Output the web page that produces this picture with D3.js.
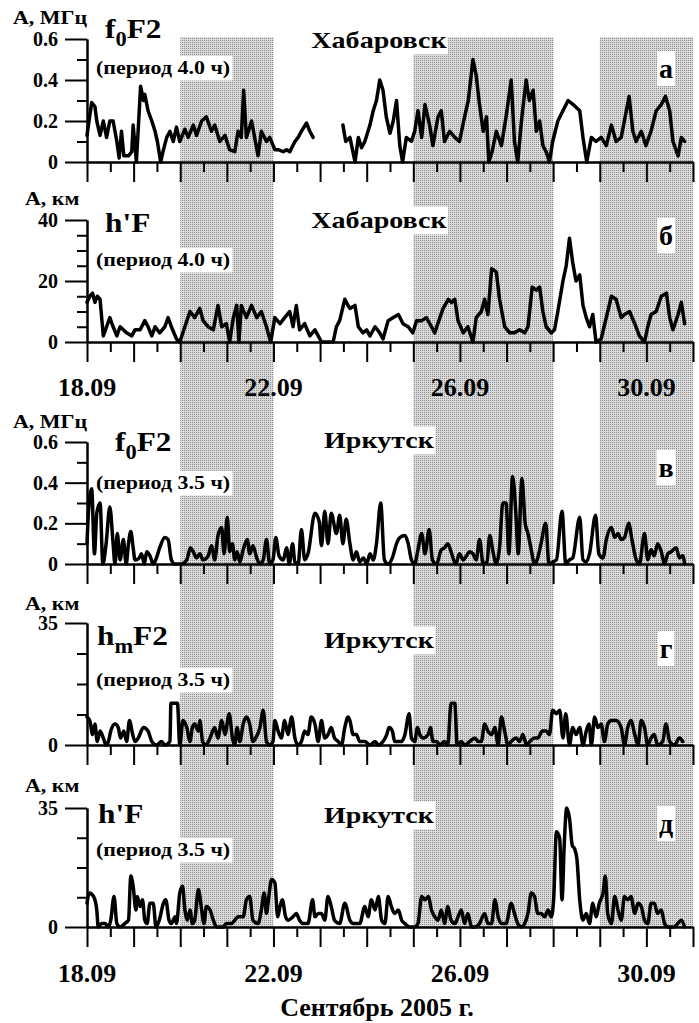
<!DOCTYPE html>
<html>
<head>
<meta charset="utf-8">
<script src="https://cdn.jsdelivr.net/npm/d3@7"></script>
<style>
  body { margin: 0; background: #fff; }
  svg { display: block; }
  text { font-family: "Liberation Serif", "Times New Roman", serif; font-weight: bold; fill: #000; }
</style>
</head>
<body>
<svg id="chart" width="699" height="1023"></svg>
<script>

// ---- data: [day of September 2005, amplitude] ----
const dayRange = [18, 31];
const dayTicks = [18,19,20,21,22,23,24,25,26,27,28,29,30,31];
const halfDayTicks = [18.5,19.5,20.5,21.5,22.5,23.5,24.5,25.5,26.5,27.5,28.5,29.5,30.5];
const dateTicks = [18, 22, 26, 30];
const dateLabels = ["18.09", "22.09", "26.09", "30.09"];
const stormDays = [[20, 22], [25, 28], [29, 31]];

// Khabarovsk foF2, period 4.0 h (MHz); null = data gap
const khabFoF2 = [[18.00,.13],[18.10,.29],[18.17,.27],[18.21,.2],[18.28,.13],[18.35,.2],[18.42,.12],[18.49,.2],[18.56,.2],[18.64,.1],[18.69,.02],[18.74,.15],[18.79,.03],[18.89,.03],[18.96,.05],[18.99,.18],[19.06,0],[19.15,.37],[19.21,.3],[19.24,.33],[19.31,.25],[19.39,.2],[19.46,.15],[19.51,.1],[19.58,0],[19.64,.06],[19.71,.12],[19.78,.15],[19.85,.1],[19.92,.17],[19.99,.1],[20.10,.16],[20.17,.12],[20.28,.18],[20.35,.13],[20.46,.2],[20.56,.22],[20.67,.15],[20.74,.18],[20.85,.1],[20.96,.13],[21.06,.06],[21.17,.05],[21.24,.15],[21.31,.12],[21.36,.35],[21.42,.12],[21.53,.2],[21.67,.03],[21.74,.15],[21.85,.1],[21.92,.12],[22.03,.06],[22.10,.06],[22.21,.05],[22.28,.06],[22.35,.05],[22.46,.1],[22.53,.12],[22.60,.15],[22.71,.19],[22.78,.15],[22.85,.12],[23.2,null],[23.49,.18],[23.55,.1],[23.64,.12],[23.75,0],[23.82,.12],[23.89,.07],[23.96,.1],[24.07,.18],[24.14,.25],[24.21,.3],[24.28,.4],[24.35,.35],[24.42,.22],[24.50,.14],[24.57,.2],[24.64,.3],[24.71,.08],[24.77,0],[24.85,.12],[24.96,.1],[25.03,.15],[25.10,.25],[25.18,.12],[25.25,.28],[25.35,.18],[25.42,.08],[25.53,.22],[25.60,.25],[25.67,.1],[25.78,.15],[25.89,.12],[25.99,.1],[26.10,.22],[26.18,.3],[26.28,.5],[26.35,.42],[26.42,.28],[26.50,.15],[26.57,.22],[26.62,0],[26.69,.05],[26.78,.15],[26.89,.08],[26.99,.22],[27.10,.4],[27.17,.1],[27.24,0],[27.32,.2],[27.42,.4],[27.49,.3],[27.57,.35],[27.64,.15],[27.71,.2],[27.78,.08],[27.85,.05],[27.92,0],[27.99,.1],[28.10,.2],[28.21,.25],[28.32,.3],[28.43,.28],[28.57,.25],[28.64,.12],[28.72,0],[28.82,.12],[28.92,.1],[29.03,.12],[29.14,.08],[29.25,.18],[29.35,.1],[29.46,.12],[29.57,.25],[29.63,.32],[29.71,.15],[29.78,.1],[29.89,.15],[29.99,.08],[30.10,.15],[30.21,.25],[30.32,.28],[30.41,.32],[30.50,.25],[30.57,.1],[30.68,.03],[30.75,.12],[30.82,.1]];

// Khabarovsk h'F, period 4.0 h (km)
const khabHF = [[18.00,13],[18.06,15],[18.12,16],[18.17,13],[18.22,15],[18.28,14],[18.35,2],[18.42,5],[18.49,8],[18.56,5],[18.64,2],[18.71,5],[18.78,4],[18.85,3],[18.96,2],[19.03,4],[19.14,4],[19.24,7],[19.31,5],[19.39,2],[19.46,5],[19.56,3],[19.67,5],[19.74,8],[19.81,5],[19.92,1],[19.99,0],[20.10,5],[20.21,10],[20.31,8],[20.42,11],[20.49,7],[20.60,5],[20.71,4],[20.81,12],[20.89,5],[20.99,6],[21.06,0],[21.14,8],[21.21,12],[21.26,0],[21.31,12],[21.42,8],[21.53,12],[21.64,8],[21.74,10],[21.85,5],[21.94,0],[22.03,8],[22.14,6],[22.24,8],[22.35,10],[22.42,5],[22.49,12],[22.56,4],[22.67,6],[22.78,2],[22.89,4],[22.96,2],[23.03,0],[23.28,0],[23.35,5],[23.42,7],[23.53,14],[23.60,12],[23.64,11],[23.75,12],[23.82,5],[23.92,3],[24.00,4],[24.07,2],[24.18,5],[24.28,3],[24.35,1],[24.46,7],[24.57,8],[24.68,9],[24.78,6],[24.89,5],[24.99,3],[25.07,7],[25.18,7],[25.28,8],[25.39,5],[25.46,3],[25.57,8],[25.64,11],[25.75,14],[25.82,13],[25.89,14],[25.96,7],[26.07,3],[26.17,5],[26.28,0],[26.35,8],[26.46,10],[26.53,14],[26.60,9],[26.68,24],[26.78,23],[26.85,14],[26.96,5],[27.07,3],[27.17,3],[27.28,4],[27.39,3],[27.46,5],[27.55,18],[27.64,17],[27.71,18],[27.78,10],[27.85,5],[27.96,3],[28.03,4],[28.10,10],[28.21,20],[28.28,25],[28.35,34],[28.42,26],[28.49,20],[28.57,22],[28.64,12],[28.71,8],[28.78,5],[28.85,9],[28.92,0],[29.03,1],[29.14,8],[29.25,15],[29.35,14],[29.46,8],[29.53,9],[29.64,10],[29.75,6],[29.85,2],[29.96,0],[30.03,5],[30.10,9],[30.21,10],[30.32,15],[30.43,16],[30.50,8],[30.57,4],[30.68,9],[30.75,13],[30.82,6]];

// Irkutsk foF2, period 3.5 h (MHz)
const irkFoF2 = [[18.00,.1],[18.03,.25],[18.10,.37],[18.16,.05],[18.21,.25],[18.28,.3],[18.34,0],[18.41,.1],[18.49,.28],[18.56,.1],[18.60,0],[18.65,.15],[18.71,.02],[18.78,.12],[18.84,0],[18.89,.1],[18.94,.16],[18.99,.08],[19.03,.02],[19.12,.03],[19.17,.05],[19.23,0],[19.28,.06],[19.35,.04],[19.42,0],[19.49,.03],[19.56,.08],[19.67,.13],[19.74,.12],[19.81,.02],[19.89,0],[20.03,0],[20.14,.02],[20.22,.08],[20.28,.06],[20.35,.03],[20.42,.05],[20.49,.02],[20.60,.04],[20.67,.09],[20.74,.02],[20.81,.14],[20.89,.18],[20.94,.05],[21.01,.23],[21.06,.06],[21.12,.1],[21.17,.02],[21.22,.06],[21.28,.01],[21.35,.07],[21.44,.12],[21.49,.05],[21.56,.09],[21.64,.03],[21.71,0],[21.78,.02],[21.85,.12],[21.92,0],[21.99,.02],[22.05,.13],[22.12,.04],[22.21,.02],[22.28,.08],[22.34,0],[22.41,.1],[22.46,.01],[22.53,0],[22.60,.17],[22.67,.02],[22.74,.05],[22.89,.25],[22.98,.21],[23.03,.09],[23.10,.26],[23.17,.1],[23.24,.25],[23.35,.15],[23.42,.24],[23.49,.1],[23.56,.22],[23.64,.1],[23.71,.02],[23.78,.06],[23.85,.01],[23.93,.03],[24.00,0],[24.07,.05],[24.14,.02],[24.21,.1],[24.30,.3],[24.38,.02],[24.46,0],[24.55,.03],[24.64,.1],[24.71,.13],[24.82,.14],[24.89,.1],[24.96,.02],[25.03,0],[25.10,.07],[25.18,.15],[25.25,.05],[25.34,.17],[25.41,.02],[25.50,0],[25.60,.07],[25.67,.08],[25.74,.1],[25.81,.06],[25.91,0],[25.99,.05],[26.07,.02],[26.14,.04],[26.21,.06],[26.28,.05],[26.35,.02],[26.42,.12],[26.50,0],[26.58,.01],[26.64,.14],[26.71,.06],[26.78,0],[26.85,.08],[26.92,.3],[26.99,.3],[27.05,.05],[27.13,.43],[27.20,.25],[27.25,.05],[27.33,.42],[27.40,.2],[27.46,.15],[27.53,.07],[27.60,0],[27.67,.03],[27.74,.1],[27.84,.2],[27.91,0],[27.99,.01],[28.07,.02],[28.19,.26],[28.27,0],[28.35,.02],[28.42,.03],[28.57,.23],[28.64,.02],[28.71,.01],[28.78,.05],[28.91,.24],[28.98,.05],[29.07,.03],[29.14,.12],[29.25,.18],[29.32,.13],[29.39,.15],[29.46,.12],[29.53,.13],[29.62,.2],[29.69,.12],[29.77,.03],[29.85,0],[29.96,.15],[30.03,.02],[30.10,.07],[30.17,.04],[30.24,.1],[30.32,.06],[30.39,0],[30.46,.05],[30.53,.06],[30.64,.08],[30.71,.03],[30.78,.04],[30.82,0]];

// Irkutsk hmF2, period 3.5 h (km)
const irkHmF2 = [[18.00,8],[18.06,7],[18.12,3],[18.17,6],[18.22,1],[18.28,4],[18.35,2],[18.41,0],[18.46,1],[18.51,4],[18.60,6],[18.67,5],[18.72,2],[18.79,4],[18.85,1],[18.91,7],[18.98,3],[19.03,1],[19.10,2],[19.21,5],[19.31,4],[19.39,1],[19.49,0],[19.60,1],[19.67,0],[19.78,1],[19.80,12],[19.94,12],[19.99,0],[20.06,7],[20.14,5],[20.21,1],[20.26,5],[20.31,6],[20.39,4],[20.42,7],[20.48,1],[20.55,0],[20.64,2],[20.74,5],[20.81,2],[20.89,7],[20.96,3],[21.05,9],[21.12,2],[21.17,0],[21.22,5],[21.28,1],[21.35,6],[21.42,8],[21.49,6],[21.56,1],[21.62,2],[21.71,5],[21.78,10],[21.85,1],[21.92,0],[21.99,1],[22.03,7],[22.10,4],[22.17,2],[22.24,7],[22.31,3],[22.39,8],[22.46,2],[22.53,0],[22.60,1],[22.67,4],[22.74,3],[22.81,8],[22.89,6],[22.96,1],[23.03,7],[23.10,2],[23.17,3],[23.24,5],[23.31,2],[23.39,1],[23.46,0],[23.53,5],[23.60,8],[23.64,7],[23.71,3],[23.78,3],[23.85,1],[23.96,1],[24.07,0],[24.18,1],[24.25,0],[24.35,1],[24.43,3],[24.48,5],[24.55,4],[24.60,1],[24.68,1],[24.75,1],[24.82,3],[24.91,9],[24.96,2],[25.03,1],[25.09,5],[25.14,3],[25.21,2],[25.32,3],[25.37,5],[25.42,1],[25.50,1],[25.57,0],[25.67,1],[25.74,0],[25.81,12],[25.89,12],[25.94,0],[26.03,1],[26.10,0],[26.21,1],[26.32,2],[26.39,1],[26.46,1],[26.53,6],[26.60,4],[26.68,3],[26.75,5],[26.82,0],[26.89,8],[26.96,4],[27.03,0],[27.10,1],[27.21,2],[27.28,1],[27.35,3],[27.43,0],[27.50,1],[27.60,2],[27.67,2],[27.77,4],[27.85,4],[27.92,3],[27.99,10],[28.07,9],[28.14,10],[28.21,2],[28.27,9],[28.35,0],[28.42,5],[28.49,3],[28.57,5],[28.64,0],[28.71,4],[28.77,6],[28.82,0],[28.89,8],[28.96,5],[29.03,6],[29.10,1],[29.17,6],[29.25,7],[29.35,7],[29.46,5],[29.53,0],[29.60,5],[29.67,7],[29.75,3],[29.82,0],[29.89,7],[29.96,5],[30.03,0],[30.10,2],[30.17,3],[30.24,0],[30.35,1],[30.42,6],[30.50,1],[30.60,0],[30.71,2],[30.78,1]];

// Irkutsk h'F, period 3.5 h (km)
const irkHF = [[18.00,7],[18.05,10],[18.14,9],[18.21,5],[18.24,0],[18.31,1],[18.39,1],[18.46,0],[18.51,2],[18.58,9],[18.64,1],[18.71,0],[18.81,1],[18.89,2],[18.94,15],[18.99,12],[19.05,5],[19.08,9],[19.14,6],[19.19,8],[19.24,2],[19.29,1],[19.35,7],[19.42,7],[19.48,0],[19.55,2],[19.64,7],[19.69,8],[19.76,2],[19.81,1],[19.89,3],[19.92,1],[19.99,10],[20.05,12],[20.10,5],[20.15,2],[20.21,5],[20.26,1],[20.31,2],[20.39,11],[20.46,5],[20.51,1],[20.56,6],[20.64,5],[20.71,2],[20.78,0],[20.92,0],[20.99,1],[21.10,1],[21.17,2],[21.24,3],[21.35,3],[21.42,8],[21.49,9],[21.56,2],[21.67,1],[21.74,5],[21.80,10],[21.85,4],[21.90,9],[21.96,14],[22.03,13],[22.09,3],[22.14,6],[22.19,8],[22.26,3],[22.31,2],[22.42,3],[22.49,4],[22.56,2],[22.64,1],[22.74,1],[22.84,8],[22.89,3],[22.96,4],[23.03,4],[23.10,2],[23.17,9],[23.24,6],[23.31,2],[23.42,1],[23.53,7],[23.64,2],[23.71,1],[23.78,1],[23.85,1],[23.96,6],[24.03,3],[24.10,8],[24.18,5],[24.25,9],[24.32,2],[24.39,1],[24.46,9],[24.53,6],[24.60,4],[24.68,5],[24.75,2],[24.82,1],[24.92,0],[25.03,0],[25.10,1],[25.18,9],[25.25,8],[25.32,9],[25.39,5],[25.46,3],[25.53,2],[25.60,5],[25.67,1],[25.74,6],[25.81,2],[25.89,1],[25.96,3],[26.03,5],[26.10,1],[26.17,4],[26.25,0],[26.32,0],[26.42,1],[26.53,4],[26.60,1],[26.68,1],[26.75,8],[26.82,3],[26.89,1],[26.99,1],[27.10,7],[27.17,4],[27.24,1],[27.32,0],[27.39,1],[27.46,4],[27.53,10],[27.60,9],[27.67,4],[27.74,4],[27.82,3],[27.89,5],[27.96,3],[28.01,8],[28.07,28],[28.14,26],[28.19,8],[28.24,25],[28.29,35],[28.35,32],[28.41,24],[28.46,23],[28.51,20],[28.57,8],[28.64,2],[28.71,4],[28.78,1],[28.85,7],[28.92,3],[28.99,7],[29.07,10],[29.12,15],[29.17,4],[29.25,1],[29.32,9],[29.39,5],[29.46,2],[29.53,9],[29.60,8],[29.67,9],[29.75,4],[29.82,7],[29.89,6],[29.96,2],[30.03,1],[30.10,7],[30.17,7],[30.24,4],[30.32,5],[30.39,1],[30.46,0],[30.60,0],[30.67,1],[30.75,2],[30.82,0]];

const panels = [
  { data: khabFoF2, jagged: true, max: 0.6, major: [0, 0.2, 0.4, 0.6], minor: [0.1, 0.3, 0.5], fmt: d => d === 0 ? "0" : d.toFixed(1),
    top: 39, zero: 162, unit: "А, МГц", unitY: 24, param: ["f", "0", "F2"], paramX: 105, paramY: 38,
    period: "(период 4.0 ч)", periodY: 74, station: "Хабаровск", stationY: 48, letter: "а", letterY: 78 },
  { data: khabHF, jagged: true, max: 40, major: [0, 20, 40], minor: [5, 10, 15, 25, 30, 35], fmt: d => d,
    top: 220, zero: 342, unit: "А, км", unitY: 205, param: ["h'F"], paramX: 105, paramY: 232,
    period: "(период 4.0 ч)", periodY: 266, station: "Хабаровск", stationY: 228, letter: "б", letterY: 245, dates: 396 },
  { data: irkFoF2, max: 0.6, major: [0, 0.2, 0.4, 0.6], minor: [0.1, 0.3, 0.5], fmt: d => d === 0 ? "0" : d.toFixed(1),
    top: 442, zero: 564, unit: "А, МГц", unitY: 428, param: ["f", "0", "F2"], paramX: 115, paramY: 451,
    period: "(период 3.5 ч)", periodY: 489, station: "Иркутск", stationY: 448, letter: "в", letterY: 477 },
  { data: irkHmF2, max: 35, major: [0, 35], minor: [8.75, 17.5, 26.25], fmt: d => d,
    top: 623, zero: 745, unit: "А, км", unitY: 610, param: ["h", "m", "F2"], paramX: 97, paramY: 645,
    period: "(период 3.5 ч)", periodY: 686, station: "Иркутск", stationY: 648, letter: "г", letterY: 658 },
  { data: irkHF, max: 35, major: [0, 35], minor: [8.75, 17.5, 26.25], fmt: d => d,
    top: 808, zero: 927, unit: "А, км", unitY: 792, param: ["h'F"], paramX: 98, paramY: 823,
    period: "(период 3.5 ч)", periodY: 856, station: "Иркутск", stationY: 823, letter: "д", letterY: 833, dates: 982 }
];

const svg = d3.select("#chart");
const x = d3.scaleLinear().domain(dayRange).range([87, 693]);

// dotted grey fill for the disturbed intervals
const pat = svg.append("defs").append("pattern")
  .attr("id", "dots").attr("width", 2).attr("height", 2)
  .attr("patternUnits", "userSpaceOnUse");
pat.append("rect").attr("width", 2).attr("height", 2).attr("fill", "#dadada");
pat.append("rect").attr("width", 1).attr("height", 1).attr("fill", "#8e8e8e");

svg.append("g").selectAll("rect").data(stormDays).join("rect")
  .attr("x", d => x(d[0]))
  .attr("width", d => x(d[1]) - x(d[0]))
  .attr("y", 37)
  .attr("height", 927 - 37)
  .attr("fill", "url(#dots)");

// text helper: optional white box behind, horizontal stretch
function label(g, txt, x0, y0, size, opt = {}) {
  const t = g.append("g").attr("transform", `translate(${x0},${y0}) scale(${opt.sx || 1},1)`);
  const r = t.append("rect").attr("fill", "#fff");
  const tx = t.append("text").attr("font-size", size)
    .attr("text-anchor", opt.anchor || "start").text(txt);
  if (opt.bg) {
    const b = tx.node().getBBox();
    const p = opt.pad || 1;
    r.attr("x", b.x - p).attr("y", b.y - p)
     .attr("width", b.width + 2 * p).attr("height", b.height + 2 * p);
  } else {
    r.remove();
  }
  return tx;
}

function styleAxis(sel) {
  sel.attr("font-size", null).attr("font-family", null);
  sel.selectAll("path, line").attr("stroke", "#000").attr("stroke-width", 2);
}

panels.forEach(p => {
  const g = svg.append("g");
  const y = d3.scaleLinear().domain([0, p.max]).range([p.zero, p.top]);

  // labels
  label(g, p.unit, 13 + (p.unit.length < 6 ? 12 : 0), p.unitY, 18, { sx: 1.22 });
  label(g, p.period, 96, p.periodY, 18, { sx: 1.22, bg: true, pad: 2 });
  label(g, p.station, 379, p.stationY, 23, { sx: 1.22, anchor: "middle", bg: true, pad: 0 });
  label(g, p.letter, 666, p.letterY, 28, { anchor: "middle", bg: true, pad: 2 });

  const pt = g.append("g").attr("transform", `translate(${p.paramX},${p.paramY}) scale(1.12,1)`)
    .append("text").attr("font-size", 28);
  if (p.param.length === 1) {
    pt.text(p.param[0]);
  } else {
    pt.append("tspan").text(p.param[0]);
    pt.append("tspan").attr("font-size", 20).attr("dy", 8).text(p.param[1]);
    pt.append("tspan").attr("dy", -8).text(p.param[2]);
  }

  // y axis
  g.append("g").attr("transform", "translate(87,0)")
    .call(d3.axisLeft(y).tickValues(p.major).tickSize(22).tickSizeOuter(0).tickPadding(7).tickFormat(p.fmt))
    .call(styleAxis)
    .selectAll("text").attr("font-size", 20);
  g.append("g").attr("transform", "translate(87,0)")
    .call(d3.axisLeft(y).tickValues(p.minor).tickSize(10).tickSizeOuter(0).tickFormat(""))
    .call(styleAxis);

  // x axis
  g.append("g").attr("transform", `translate(0,${p.zero})`)
    .call(d3.axisBottom(x).tickValues(dayTicks).tickSize(20).tickSizeOuter(0).tickFormat(""))
    .call(styleAxis);
  g.append("g").attr("transform", `translate(0,${p.zero})`)
    .call(d3.axisBottom(x).tickValues(halfDayTicks).tickSize(10).tickSizeOuter(0).tickFormat(""))
    .call(styleAxis);

  if (p.dates) {
    g.append("g").selectAll("text").data(dateTicks).join("text")
      .attr("x", d => x(d))
      .attr("y", p.dates)
      .attr("text-anchor", "middle")
      .attr("font-size", 26)
      .text((d, i) => dateLabels[i]);
  }

  // series
  const line = d3.line()
    .defined(d => d[1] != null)
    .x(d => x(d[0]))
    .y(d => y(d[1]))
    .curve(p.jagged ? d3.curveLinear : d3.curveMonotoneX);

  g.append("path")
    .datum(p.data)
    .attr("d", line)
    .attr("fill", "none")
    .attr("stroke", "#000")
    .attr("stroke-width", 3.5)
    .attr("stroke-linejoin", "round")
    .attr("stroke-linecap", "round");
});

svg.append("text")
  .attr("x", 377)
  .attr("y", 1016)
  .attr("text-anchor", "middle")
  .attr("font-size", 26)
  .text("Сентябрь 2005 г.");

</script>
</body>
</html>
